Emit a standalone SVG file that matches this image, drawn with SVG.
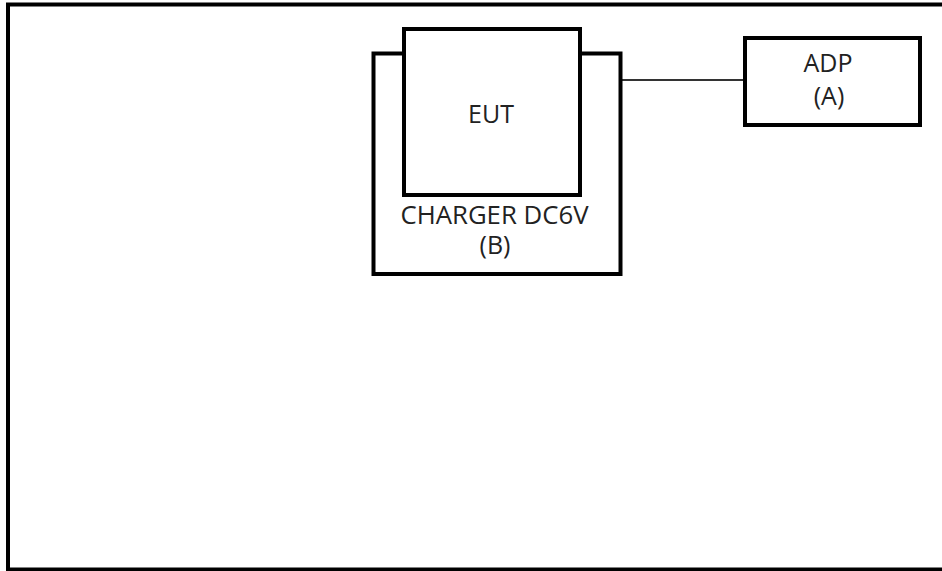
<svg xmlns="http://www.w3.org/2000/svg" width="942" height="571" viewBox="0 0 942 571">
<style>
.box{fill:#fff;stroke:#000;stroke-width:4}
.lbl{font-family:"Open Sans","Noto Sans",sans-serif;font-size:25px;fill:#222;text-anchor:middle}
.wire{stroke:#333;stroke-width:2;fill:none}
</style>
<rect x="0" y="0" width="942" height="571" fill="#fff"/>
<rect x="8" y="4.5" width="940" height="565" fill="none" stroke="#000" stroke-width="4"/>
<g id="connectors">
<line class="wire" x1="622" y1="80" x2="745" y2="80"/>
</g>
<g id="charger">
<rect class="box" x="373.5" y="53.5" width="247" height="220.5"/>
<text class="lbl" x="494.5" y="224" textLength="188" lengthAdjust="spacingAndGlyphs">CHARGER DC6V</text>
<text class="lbl" x="495" y="254">(B)</text>
</g>
<g id="eut">
<rect class="box" x="404" y="29" width="176" height="166"/>
<text class="lbl" x="491" y="123">EUT</text>
</g>
<g id="adp">
<rect class="box" x="745" y="38" width="175" height="87"/>
<text class="lbl" x="828" y="72">ADP</text>
<text class="lbl" x="829" y="105">(A)</text>
</g>
</svg>
